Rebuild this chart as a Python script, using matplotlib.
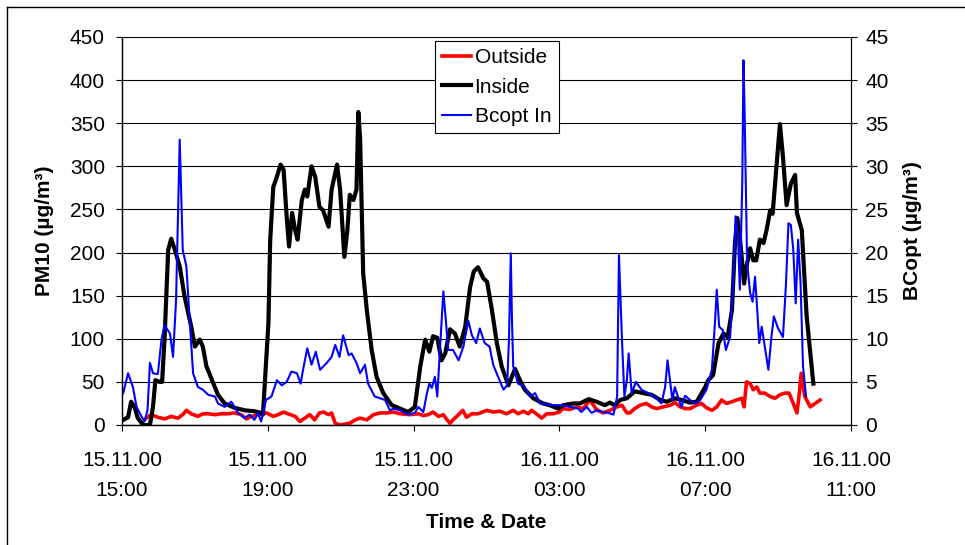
import pandas as pd
import matplotlib
matplotlib.use("Agg")
import matplotlib.pyplot as plt
import matplotlib.dates as mdates
from matplotlib.lines import Line2D


# =========================
# DATA (minutes after 15.11.00 15:00)
# =========================
START = pd.Timestamp("2000-11-15 15:00")

outside_min = [40, 48, 59, 70, 81, 92, 100, 106, 114, 125,
               133, 142, 153, 163, 174, 185, 196, 205, 213, 224,
               238, 249, 257, 266, 277, 285, 293, 301, 309, 317,
               325, 332, 340, 345, 351, 359, 367, 375, 384, 392,
               403, 414, 425, 436, 447, 458, 474, 488, 496, 504,
               512, 521, 529, 535, 540, 545, 554, 561, 567, 576,
               586, 601, 611, 622, 633, 644, 652, 661, 669, 674,
               682, 691, 699, 710, 720, 726, 737, 748, 759, 770,
               781, 792, 803, 815, 823, 831, 836, 844, 853, 863,
               872, 880, 891, 903, 910, 919, 927, 935, 946, 954,
               962, 971, 979, 987, 995, 1004, 1012, 1020, 1024, 1028,
               1034, 1039, 1045, 1050, 1058, 1067, 1075, 1083, 1091, 1098,
               1105, 1111, 1115, 1118, 1124, 1133, 1141, 1149]
outside_pm10 = [8, 12, 9, 7, 10, 8, 12, 17, 13, 10,
                13, 13, 12, 13, 13, 14, 12, 7, 10, 12,
                14, 10, 12, 15, 12, 10, 4, 8, 12, 6,
                14, 15, 12, 14, 2, 0, 1, 2, 6, 8,
                6, 12, 14, 14, 15, 13, 12, 13, 11, 12,
                15, 10, 12, 6, 2, 6, 12, 17, 9, 13,
                13, 17, 15, 16, 13, 17, 13, 16, 13, 17,
                13, 8, 13, 13, 15, 19, 18, 21, 19, 29,
                18, 14, 17, 21, 23, 14, 14, 19, 23, 25,
                21, 19, 21, 23, 26, 21, 19, 19, 23, 25,
                20, 17, 21, 29, 25, 27, 29, 31, 21, 50,
                48, 41, 44, 37, 37, 33, 31, 35, 37, 37,
                25, 14, 37, 60, 33, 21, 25, 29]

inside_min = [2, 10, 15, 21, 26, 35, 46, 51, 55, 62,
              66, 70, 76, 81, 87, 95, 103, 109, 114, 120,
              128, 133, 139, 150, 158, 169, 185, 202, 218, 229,
              232, 241, 244, 249, 255, 261, 266, 271, 275, 280,
              285, 289, 296, 301, 305, 312, 318, 325, 331, 340,
              345, 354, 359, 366, 371, 375, 381, 386, 389, 392,
              397, 403, 411, 419, 430, 444, 458, 471, 482, 491,
              499, 506, 512, 519, 526, 532, 540, 548, 556, 565,
              573, 579, 586, 595, 601, 609, 617, 625, 636, 647,
              655, 663, 677, 693, 704, 718, 726, 743, 754, 768,
              781, 795, 803, 811, 820, 831, 844, 858, 872, 886,
              897, 910, 921, 935, 946, 951, 960, 965, 973, 982,
              990, 997, 1004, 1009, 1013, 1017, 1024, 1028, 1034, 1039,
              1044, 1050, 1056, 1061, 1067, 1071, 1076, 1083, 1088, 1094,
              1101, 1108, 1111, 1119, 1127, 1138]
inside_pm10 = [6, 9, 27, 20, 8, 0, 0, 21, 52, 50,
               50, 99, 203, 216, 203, 184, 149, 130, 114, 91,
               99, 91, 68, 49, 35, 25, 20, 17, 16, 14,
               12, 118, 215, 276, 288, 302, 296, 242, 207, 246,
               226, 215, 261, 273, 265, 300, 288, 253, 249, 230,
               273, 302, 273, 195, 226, 267, 261, 273, 363, 331,
               176, 133, 87, 56, 37, 23, 19, 15, 21, 68,
               99, 85, 103, 101, 75, 83, 111, 106, 91, 114,
               160, 178, 183, 170, 166, 133, 95, 68, 46, 65,
               52, 41, 31, 25, 23, 19, 23, 25, 25, 30,
               27, 23, 26, 23, 29, 31, 39, 37, 35, 29,
               27, 31, 29, 26, 27, 33, 44, 52, 58, 95,
               106, 102, 133, 211, 240, 218, 164, 184, 205, 191,
               191, 215, 211, 226, 249, 245, 288, 349, 311, 255,
               280, 290, 246, 226, 126, 48]

bcopt_min = [2, 10, 18, 24, 32, 37, 42, 46, 51, 59,
             65, 70, 79, 84, 89, 95, 100, 106, 111, 117,
             125, 133, 142, 153, 158, 169, 180, 191, 202, 210,
             218, 224, 229, 237, 246, 255, 263, 271, 279, 288,
             294, 298, 305, 312, 319, 326, 337, 345, 351, 358,
             364, 373, 378, 386, 392, 400, 405, 416, 425, 433,
             441, 447, 458, 471, 482, 488, 496, 502, 506, 510,
             515, 519, 523, 529, 533, 537, 545, 554, 562, 570,
             576, 583, 589, 597, 605, 611, 619, 628, 634, 637,
             640, 642, 644, 652, 663, 672, 680, 688, 699, 710,
             726, 737, 751, 756, 765, 773, 781, 792, 801, 809,
             815, 818, 823, 827, 831, 834, 839, 846, 855, 866,
             880, 888, 894, 898, 902, 906, 910, 916, 921, 927,
             935, 943, 951, 962, 971, 976, 979, 983, 989, 994,
             1001, 1006, 1010, 1014, 1017, 1021, 1023, 1025, 1029, 1034,
             1038, 1042, 1045, 1049, 1053, 1058, 1064, 1069, 1073, 1080,
             1088, 1093, 1097, 1101, 1105, 1109, 1113, 1117, 1121, 1126]
bcopt_in = [3.7, 6.0, 4.4, 2.1, 1.0, 0.4, 1.7, 7.2, 6.0, 5.9,
            9.9, 11.6, 10.6, 7.9, 14.5, 33.1, 20.3, 18.4, 12.6, 6.0,
            4.4, 4.1, 3.5, 3.3, 2.5, 2.1, 2.7, 1.4, 0.8, 1.2,
            0.6, 1.4, 0.4, 2.9, 3.3, 5.2, 4.6, 5.0, 6.2, 6.0,
            4.8, 6.4, 8.9, 7.0, 8.5, 6.4, 7.2, 7.9, 9.3, 7.9,
            10.4, 8.1, 8.3, 7.2, 6.0, 7.0, 4.8, 3.3, 3.1, 2.9,
            1.7, 1.9, 1.7, 1.2, 1.4, 2.1, 1.5, 3.7, 4.8, 4.3,
            5.6, 3.3, 8.3, 15.5, 12.2, 8.7, 8.7, 7.5, 9.1, 12.1,
            10.4, 9.5, 11.2, 9.5, 9.1, 7.0, 5.6, 4.1, 4.6, 10.0,
            19.9, 12.0, 6.8, 4.8, 4.4, 3.3, 3.7, 2.5, 2.4, 2.3,
            2.3, 2.1, 1.9, 1.5, 2.1, 1.4, 1.7, 1.5, 1.4, 1.2,
            3.3, 19.7, 9.9, 3.3, 5.2, 8.3, 3.7, 5.0, 4.1, 3.7,
            3.1, 2.5, 4.4, 7.5, 5.2, 2.9, 4.4, 3.1, 2.1, 3.4,
            2.9, 2.5, 2.8, 4.1, 6.4, 11.8, 15.7, 11.4, 11.0, 8.7,
            10.2, 16.4, 24.2, 21.8, 15.7, 28.0, 42.3, 35.8, 18.8, 15.3,
            14.3, 17.2, 14.1, 9.5, 11.4, 9.1, 6.4, 10.2, 12.6, 11.2,
            10.2, 16.4, 23.4, 23.2, 20.3, 14.1, 21.5, 16.4, 6.8, 3.3]

PM_TICKS = list(range(0, 451, 50))
BC_TICKS = list(range(0, 46, 5))


def to_time(minutes):
    return START + pd.to_timedelta(minutes, unit="min")


# =========================
# PLOT
# =========================
plt.rcParams["font.family"] = ["Liberation Sans", "DejaVu Sans"]

W, H = 965, 545
fig = plt.figure(figsize=(W / 100, H / 100), dpi=100)
ax = fig.add_axes([122 / W, 1 - 425 / H, (851 - 122) / W, (425 - 37) / H])
ax2 = ax.twinx()

# outer frame (left and top edges visible)
fig.add_artist(Line2D([7 / W, 7 / W], [0, 1 - 7 / H], transform=fig.transFigure,
                      color="black", linewidth=1))
fig.add_artist(Line2D([7 / W, 1], [1 - 7 / H, 1 - 7 / H], transform=fig.transFigure,
                      color="black", linewidth=1))

l_out, = ax.plot(to_time(outside_min), outside_pm10, color="#ff0000",
                 linewidth=2.6, solid_joinstyle="round", label="Outside")
l_in, = ax.plot(to_time(inside_min), inside_pm10, color="black",
                linewidth=3.0, solid_joinstyle="round", label="Inside")
l_bc, = ax2.plot(to_time(bcopt_min), bcopt_in, color="#0000ff",
                 linewidth=1.5, label="Bcopt In")

ax.set_xlim(START, START + pd.Timedelta(hours=20))
ax.set_ylim(0, 450)
ax2.set_ylim(0, 45)
ax.set_yticks(PM_TICKS)
ax2.set_yticks(BC_TICKS)

ax.xaxis.set_major_locator(mdates.HourLocator(byhour=[3, 7, 11, 15, 19, 23]))
ax.xaxis.set_major_formatter(mdates.DateFormatter("%d.%m.%y\n%H:%M"))

ax.yaxis.grid(True, color="black", linewidth=0.8)
ax.set_axisbelow(True)

for a in (ax, ax2):
    a.spines["top"].set_visible(False)
    for s in a.spines.values():
        s.set_linewidth(0.9)
ax.spines["right"].set_visible(False)

ax.tick_params(axis="y", direction="out", length=4.3, width=0.8, labelsize=15, pad=8)
ax.tick_params(axis="x", direction="out", length=4.3, width=0.8, labelsize=15, pad=14.5)
ax2.tick_params(axis="y", direction="out", length=4.3, width=0.8, labelsize=15, pad=6)
for lab in ax.get_xticklabels():
    lab.set_linespacing(1.7)

fig.text(45 / W, 1 - 231 / H, "PM10 (µg/m³)", rotation=90, ha="center", va="center",
         fontsize=15, fontweight="bold")
fig.text(912 / W, 1 - 231 / H, "BCopt (µg/m³)", rotation=90, ha="center", va="center",
         fontsize=15, fontweight="bold")
fig.text(486 / W, 1 - 522 / H, "Time & Date", ha="center", va="center",
         fontsize=15, fontweight="bold")

leg = ax2.legend([l_out, l_in, l_bc], ["Outside", "Inside", "Bcopt In"],
                 loc="upper left", bbox_to_anchor=(435 / W, 1 - 41 / H),
                 bbox_transform=fig.transFigure, borderaxespad=0,
                 fontsize=15, frameon=True, fancybox=False, framealpha=1,
                 edgecolor="black", handlelength=1.4, handletextpad=0.15,
                 labelspacing=0.5, borderpad=0.35)
leg.get_frame().set_linewidth(0.8)

fig.savefig("out.png", dpi=100)
